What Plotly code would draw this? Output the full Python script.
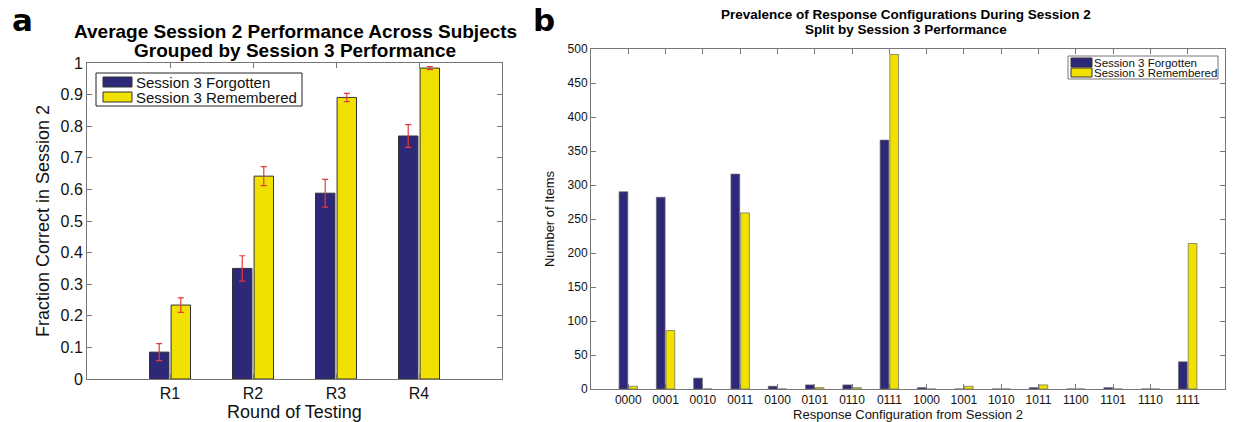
import plotly.graph_objects as go

# ---- Panel a data ----
rounds = ["R1", "R2", "R3", "R4"]
forgot_mean = [0.085, 0.350, 0.588, 0.769]
forgot_err = [0.027, 0.040, 0.044, 0.036]
remem_mean = [0.234, 0.642, 0.891, 0.984]
remem_err = [0.023, 0.030, 0.013, 0.005]
a_yticks = [0, 0.1, 0.2, 0.3, 0.4, 0.5, 0.6, 0.7, 0.8, 0.9, 1]

# ---- Panel b data ----
configs = ["0000", "0001", "0010", "0011", "0100", "0101", "0110", "0111",
           "1000", "1001", "1010", "1011", "1100", "1101", "1110", "1111"]
forgot_counts = [290, 282, 16, 316, 4, 6, 6, 366, 2, 0, 0, 2, 0, 2, 0, 40]
remem_counts = [4, 86, 0, 259, 0, 2, 2, 492, 0, 4, 0, 6, 0, 0, 0, 214]
b_yticks = [0, 50, 100, 150, 200, 250, 300, 350, 400, 450, 500]

series_names = ["Session 3 Forgotten", "Session 3 Remembered"]

BLUE = "#2e2878"
YELLOW = "#f0e100"
RED = "#e8383a"
FONT = "Liberation Sans"

fig = go.Figure()

fig.add_trace(go.Bar(
    x=rounds, y=forgot_mean, name=series_names[0], showlegend=False,
    marker=dict(color=BLUE, line=dict(color="#333333", width=1)),
    error_y=dict(type="data", array=forgot_err, color=RED, thickness=1.2, width=3),
    xaxis="x", yaxis="y"))
fig.add_trace(go.Bar(
    x=rounds, y=remem_mean, name=series_names[1], showlegend=False,
    marker=dict(color=YELLOW, line=dict(color="#333333", width=1)),
    error_y=dict(type="data", array=remem_err, color=RED, thickness=1.2, width=3),
    xaxis="x", yaxis="y"))

fig.add_trace(go.Bar(
    x=configs, y=forgot_counts, name=series_names[0], showlegend=False,
    marker=dict(color=BLUE, line=dict(color="#666666", width=0.7)),
    xaxis="x2", yaxis="y2"))
fig.add_trace(go.Bar(
    x=configs, y=remem_counts, name=series_names[1], showlegend=False,
    marker=dict(color=YELLOW, line=dict(color="#666666", width=0.7)),
    xaxis="x2", yaxis="y2"))

W, H = 1233, 422
def px_x(p):
    return p / W
def px_y(p):
    return 1 - p / H

axis_common = dict(showline=True, mirror="ticks", ticks="inside", linecolor="#777777",
                   tickcolor="#777777", showgrid=False, zeroline=False, linewidth=1,
                   automargin=False)

shapes = []
annotations = []

def add_legend(box, swatches, text_x, text_ys, fsize, border):
    x0, y0, x1, y1 = box
    shapes.append(dict(type="rect", xref="paper", yref="paper",
                       x0=px_x(x0), x1=px_x(x1), y0=px_y(y1), y1=px_y(y0),
                       line=dict(color=border, width=1), fillcolor="white", layer="above"))
    for (sx0, sy0, sx1, sy1), col in zip(swatches, [BLUE, YELLOW]):
        shapes.append(dict(type="rect", xref="paper", yref="paper",
                           x0=px_x(sx0), x1=px_x(sx1), y0=px_y(sy1), y1=px_y(sy0),
                           line=dict(color="#333333", width=1), fillcolor=col, layer="above"))
    for name, ty in zip(series_names, text_ys):
        annotations.append(dict(text=name, x=px_x(text_x), y=px_y(ty), xref="paper", yref="paper",
                                showarrow=False, xanchor="left", yanchor="middle",
                                font=dict(size=fsize, family=FONT, color="#111111")))

add_legend((96, 73, 302, 106), [(103, 77, 132, 87), (103, 92, 132, 102)], 134, [82, 97], 15, "#222222")
add_legend((1068, 56, 1218, 79), [(1071, 58, 1092, 67), (1071, 68, 1092, 77)], 1092, [62.5, 72.5], 11.5, "#777777")

annotations += [
    dict(text="<b>Average Session 2 Performance Across Subjects</b>", x=px_x(295), y=px_y(31),
         xref="paper", yref="paper", showarrow=False, xanchor="center", yanchor="middle",
         font=dict(size=19, family=FONT, color="black")),
    dict(text="<b>Grouped by Session 3 Performance</b>", x=px_x(295), y=px_y(50),
         xref="paper", yref="paper", showarrow=False, xanchor="center", yanchor="middle",
         font=dict(size=19, family=FONT, color="black")),
    dict(text="<b>Prevalence of Response Configurations During Session 2</b>", x=px_x(906), y=px_y(15),
         xref="paper", yref="paper", showarrow=False, xanchor="center", yanchor="middle",
         font=dict(size=13.5, family=FONT, color="black")),
    dict(text="<b>Split by Session 3 Performance</b>", x=px_x(906), y=px_y(30),
         xref="paper", yref="paper", showarrow=False, xanchor="center", yanchor="middle",
         font=dict(size=13.5, family=FONT, color="black")),
    dict(text="<b>a</b>", x=px_x(10), y=px_y(20), xref="paper", yref="paper", showarrow=False,
         xanchor="left", yanchor="middle", font=dict(size=31, family="DejaVu Sans", color="black")),
    dict(text="<b>b</b>", x=px_x(531), y=px_y(20), xref="paper", yref="paper", showarrow=False,
         xanchor="left", yanchor="middle", font=dict(size=31, family="DejaVu Sans", color="black")),
]

fig.update_layout(
    width=W, height=H,
    margin=dict(l=0, r=0, t=0, b=0, autoexpand=False),
    paper_bgcolor="white", plot_bgcolor="white",
    barmode="group", bargap=0.48, bargroupgap=0.1,
    showlegend=False,
    font=dict(family=FONT, color="#111111"),
    xaxis=dict(domain=[px_x(87), px_x(502)], anchor="y", type="category",
               range=[-1, 4], ticklen=5,
               tickfont=dict(size=16, family=FONT),
               title=dict(text="Round of Testing", font=dict(size=18, family=FONT), standoff=2),
               **axis_common),
    yaxis=dict(domain=[px_y(379), px_y(63)], anchor="x", range=[0, 1],
               tickvals=a_yticks, ticktext=[("%g" % v) for v in a_yticks], ticklen=5,
               tickfont=dict(size=16, family=FONT),
               title=dict(text="Fraction Correct in Session 2", font=dict(size=18, family=FONT), standoff=6),
               **axis_common),
    xaxis2=dict(domain=[px_x(591), px_x(1225)], anchor="y2", type="category",
                range=[-1, 16], ticklen=5,
                tickfont=dict(size=12, family=FONT),
                title=dict(text="Response Configuration from Session 2", font=dict(size=13, family=FONT), standoff=0),
                **axis_common),
    yaxis2=dict(domain=[px_y(389), px_y(49)], anchor="x2", range=[0, 500],
                tickvals=b_yticks, ticklen=5,
                tickfont=dict(size=12, family=FONT),
                title=dict(text="Number of Items", font=dict(size=13, family=FONT), standoff=10),
                **axis_common),
    shapes=shapes,
    annotations=annotations,
)

fig.write_html("out.html")
